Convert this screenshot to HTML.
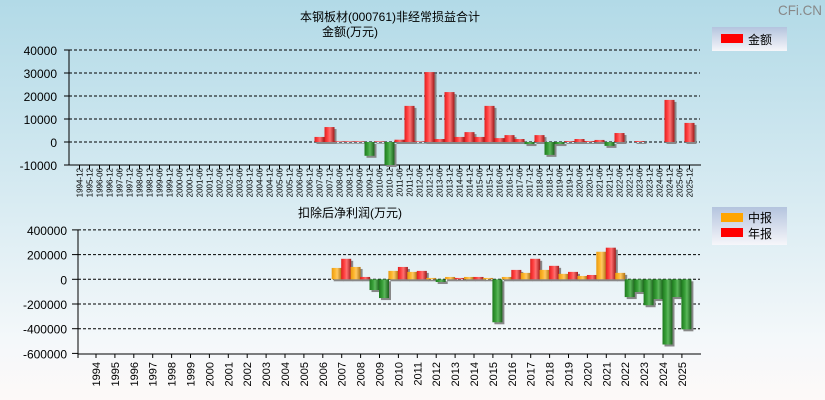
<!DOCTYPE html>
<html><head><meta charset="utf-8">
<style>
html,body{margin:0;padding:0;}
body{width:825px;height:400px;overflow:hidden;background:linear-gradient(#b2dae7 0%,#d8ebf2 50%,#f4f8fa 85%,#fdf9f8 100%);font-family:"Liberation Sans","Noto Sans CJK SC",sans-serif;}
svg{position:absolute;left:0;top:0;}
</style></head>
<body>
<svg id="c" width="825" height="400" xmlns="http://www.w3.org/2000/svg">
<defs>
<linearGradient id="gr" x1="0" x2="1"><stop offset="0" stop-color="#e02020"/><stop offset="0.3" stop-color="#ff4040"/><stop offset="0.55" stop-color="#ff7070"/><stop offset="1" stop-color="#a01818"/></linearGradient>
<linearGradient id="gg" x1="0" x2="1"><stop offset="0" stop-color="#1e7a1e"/><stop offset="0.35" stop-color="#3aa03a"/><stop offset="0.55" stop-color="#5cb85c"/><stop offset="1" stop-color="#1a601a"/></linearGradient>
<linearGradient id="go" x1="0" x2="1"><stop offset="0" stop-color="#e89a10"/><stop offset="0.35" stop-color="#ffb830"/><stop offset="0.55" stop-color="#ffc860"/><stop offset="1" stop-color="#b07010"/></linearGradient>
<linearGradient id="lg" x1="0" y1="0" x2="0" y2="1"><stop offset="0" stop-color="#b4c4de"/><stop offset="1" stop-color="#f6f6fa"/></linearGradient>
</defs>
<text x="778" y="15" font-size="14" fill="#888" textLength="44" lengthAdjust="spacingAndGlyphs">CFi.CN</text>
<text x="390" y="21" font-size="12" text-anchor="middle">本钢板材(000761)非经常损益合计</text>
<text x="350" y="36" font-size="12" text-anchor="middle">金额(万元)</text>
<text x="350" y="217" font-size="12" text-anchor="middle">扣除后净利润(万元)</text>
<g>
<rect x="712" y="27" width="75" height="24" fill="url(#lg)"/>
<rect x="721" y="34" width="22" height="9" fill="#ff0000"/>
<text x="748" y="44" font-size="12">金额</text>
</g>
<g>
<rect x="712" y="207" width="75" height="38" fill="url(#lg)"/>
<rect x="721" y="213" width="22" height="9" fill="#ffa500"/>
<text x="748" y="222" font-size="12">中报</text>
<rect x="721" y="228" width="22" height="9" fill="#ff0000"/>
<text x="748" y="238" font-size="12">年报</text>
</g>
<g id="top"></g>
<g id="bot"></g>
</svg>
<script>
const topCats=["1994-12","1995-12","1996-06","1996-12","1997-06","1997-12","1998-06","1998-12","1999-06","1999-12","2000-06","2000-12","2001-06","2001-12","2002-06","2002-12","2003-06","2003-12","2004-06","2004-12","2005-06","2005-12","2006-06","2006-12","2007-06","2007-12","2008-06","2008-12","2009-06","2009-12","2010-06","2010-12","2011-06","2011-12","2012-06","2012-12","2013-06","2013-12","2014-06","2014-12","2015-06","2015-12","2016-06","2016-12","2017-06","2017-12","2018-06","2018-12","2019-06","2019-12","2020-06","2020-12","2021-06","2021-12","2022-06","2022-12","2023-06","2023-12","2024-06","2024-12","2025-06","2025-12"];
const topVals=[0,0,0,0,0,0,0,0,0,0,0,0,0,0,0,0,0,0,0,0,0,0,0,0,2200,6500,300,300,300,-6000,300,-10000,1000,15700,300,30400,1300,21700,2200,4300,2200,15700,1700,3000,1300,-900,3000,-5600,-900,400,1300,400,900,-1700,3900,0,400,0,0,18300,0,8300];
const topTicks=[40000,30000,20000,10000,0,-10000];
const years=[1994,1995,1996,1997,1998,1999,2000,2001,2002,2003,2004,2005,2006,2007,2008,2009,2010,2011,2012,2013,2014,2015,2016,2017,2018,2019,2020,2021,2022,2023,2024,2025];
const midVals=[0,0,0,0,0,0,0,0,0,0,0,0,0,92000,100000,-87000,68000,60000,11000,19000,19000,11000,19000,52000,76000,44000,27000,223000,52000,-103000,-160000,-144000];
const annVals=[0,0,0,0,0,0,0,0,0,0,0,0,0,166000,19000,-152000,100000,68000,-22000,11000,19000,-348000,76000,166000,109000,60000,35000,256000,-144000,-210000,-528000,-405000];
const botTicks=[400000,200000,0,-200000,-400000,-600000];
const NS="http://www.w3.org/2000/svg";
function mk(p,t,a){const e=document.createElementNS(NS,t);for(const k in a)e.setAttribute(k,a[k]);p.appendChild(e);return e;}
const T=document.getElementById('top');
const tY=v=>142-v*23/10000;
const tX=i=>79.5+i*10;
topTicks.forEach(v=>{const y=tY(v);
 if(v>-10000){const g=mk(T,'line',{x1:69,x2:700,y1:y,y2:y,stroke:'#000','stroke-dasharray':'3,2'});}
 mk(T,'line',{x1:64,x2:69,y1:y,y2:y,stroke:'#000'});
 const t=mk(T,'text',{x:57,y:y+5,'font-size':12,'text-anchor':'end'});t.textContent=v;
 });
mk(T,'line',{x1:69,x2:69,y1:50,y2:165,stroke:'#000'});
mk(T,'line',{x1:69,x2:701,y1:165,y2:165,stroke:'#000'});
topCats.forEach((c,i)=>{const x=tX(i);
 mk(T,'line',{x1:x,x2:x,y1:165,y2:169,stroke:'#000'});
 const t=mk(T,'text',{x:0,y:0,'font-size':8,'text-anchor':'end',transform:`translate(${x+3},168) rotate(-90)`});t.textContent=c;
 
 const v=topVals[i];if(v===0)return;
 let y0=tY(Math.max(v,0)),y1=tY(Math.min(v,0));
 mk(T,'rect',{x:x-5+2,y:y0+2,width:10,height:y1-y0,fill:'#888'});
 const r=mk(T,'rect',{x:x-5,y:y0,width:10,height:y1-y0,fill:v>0?'url(#gr)':'url(#gg)'});
 });
const B=document.getElementById('bot');
const bY=v=>279.3-v*24.7/200000;
const bX=i=>96+i*18.9;
botTicks.forEach(v=>{const y=bY(v);
 if(v>-600000){const g=mk(B,'line',{x1:78,x2:700,y1:y,y2:y,stroke:'#000','stroke-dasharray':'3,2'});}
 mk(B,'line',{x1:72,x2:78,y1:y,y2:y,stroke:'#000'});
 const t=mk(B,'text',{x:67,y:y+5,'font-size':12,'text-anchor':'end'});t.textContent=v;
 });
mk(B,'line',{x1:78,x2:78,y1:230,y2:354,stroke:'#000'});
mk(B,'line',{x1:78,x2:701,y1:354,y2:354,stroke:'#000'});
mk(B,'line',{x1:78,x2:78,y1:354,y2:358,stroke:'#000'});
function bar(x,v,fill,name){if(v===0)return;
 let y0=bY(Math.max(v,0)),y1=bY(Math.min(v,0));
 mk(B,'rect',{x:x+2,y:y0+2,width:10,height:y1-y0,fill:'#888'});
 const r=mk(B,'rect',{x:x,y:y0,width:10,height:y1-y0,fill:fill});
 }
years.forEach((yr,i)=>{const x=bX(i);
 mk(B,'line',{x1:x,x2:x,y1:354,y2:358,stroke:'#000'});
 const t=mk(B,'text',{x:0,y:0,'font-size':11,'text-anchor':'end',transform:`translate(${x+4},362) rotate(-90)`});t.textContent=yr;
 
 const m=midVals[i],a=annVals[i];
 bar(x-10,m,m>=0?'url(#go)':'url(#gg)','mid-bar-'+yr);
 bar(x-0.5,a,a>=0?'url(#gr)':'url(#gg)','annual-bar-'+yr);});
</script>
</body></html>
